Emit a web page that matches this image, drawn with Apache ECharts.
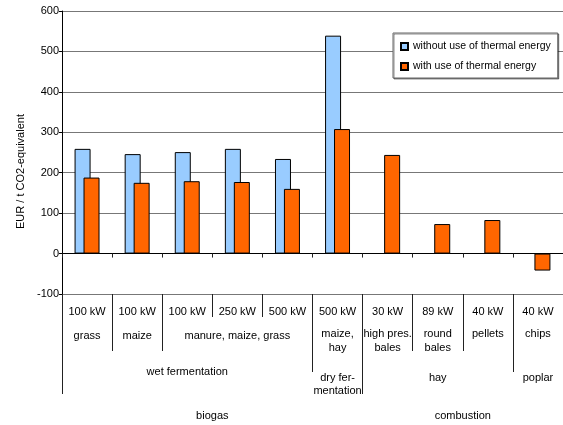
<!DOCTYPE html>
<html>
<head>
<meta charset="utf-8">
<script src="https://cdn.jsdelivr.net/npm/echarts@6/dist/echarts.min.js"></script>
<style>
  html, body { margin: 0; padding: 0; background: #fff; }
  #chart { width: 563px; height: 425px; }
</style>
</head>
<body>
<div id="chart"></div>
<script>
// Plant capacity per column
const capacity = ['100 kW', '100 kW', '100 kW', '250 kW', '500 kW', '500 kW', '30 kW', '89 kW', '40 kW', '40 kW'];
// Feedstock groups and how many columns each spans
const feedstock = ['grass', 'maize', 'manure, maize, grass', 'maize,\nhay', 'high pres.\nbales', 'round\nbales', 'pellets', 'chips'];
const feedstockSpan = [1, 1, 3, 1, 1, 1, 1, 1];
// Process groups
const processes = ['wet fermentation', 'dry fer-\nmentation', 'hay', 'poplar'];
const processSpan = [5, 1, 3, 1];
// Sector groups
const sectors = ['biogas', 'combustion'];
const sectorSpan = [6, 4];
// CO2 abatement costs, EUR / t CO2-equivalent
const withoutHeat = [259, 246, 251, 259, 234, 539, null, null, null, null];
const withHeat = [188, 175, 179, 177, 160, 308, 244, 73, 83, -42];
const yMin = -100, yMax = 600, yStep = 100;

const FONT = '"Liberation Sans", Arial, sans-serif';
const n = capacity.length;
const ids = capacity.map((_, i) => String(i));

// boundaries and centres of a row of grouped columns
function layout(spans) {
  const bounds = [];
  const centers = [];
  let s = 0;
  spans.forEach(sp => { bounds.push(s); centers.push(s + sp / 2); s += sp; });
  return { bounds, centers };
}
const fLay = layout(feedstockSpan);
const pLay = layout(processSpan);
const sLay = layout(sectorSpan);

function groupIndex(lay, v) {
  return lay.centers.findIndex(c => Math.abs(c - v) < 1e-6);
}
function labelFor(lay, names) {
  return v => {
    const k = groupIndex(lay, v);
    return k < 0 ? '' : names[k];
  };
}

const tickStyle = { color: '#222', width: 1 };
const textBase = { color: '#000', fontFamily: FONT, fontSize: 11, lineHeight: 14 };

function groupAxis(lay, names, offset, tickLen, margin, fmt, lineHeight) {
  return {
    type: 'value', gridIndex: 0, position: 'bottom', offset: offset,
    min: 0, max: n,
    axisLine: { show: false, onZero: false },
    splitLine: { show: false },
    axisTick: { show: true, length: tickLen, lineStyle: tickStyle, customValues: lay.bounds },
    axisLabel: Object.assign({
      show: true, margin: margin, customValues: lay.centers,
      formatter: fmt || labelFor(lay, names)
    }, textBase, lineHeight ? { lineHeight: lineHeight } : {})
  };
}

const chart = echarts.init(document.getElementById('chart'), null, { renderer: 'canvas' });

// feedstock row: biogas-side labels sit slightly lower
const feedFmt = v => {
  const k = groupIndex(fLay, v);
  if (k < 0) return '';
  if (k < 3) return feedstock[k].split('\n').map(l => '{lo|' + l + '}').join('\n');
  return feedstock[k];
};
// process row: the wide wet fermentation label sits a little higher
const procFmt = v => {
  const k = groupIndex(pLay, v);
  if (k < 0) return '';
  if (k === 0) return '{hi|' + processes[k] + '}';
  return processes[k];
};

const option = {
  animation: false,
  backgroundColor: '#fff',
  textStyle: { fontFamily: FONT },
  grid: { left: 62, right: 0, top: 11, bottom: 131, containLabel: false },
  legend: {
    orient: 'vertical',
    left: 393, top: 33,
    padding: [8, 7, 6, 7],
    itemGap: 9,
    itemWidth: 7, itemHeight: 7,
    itemTextGap: 6,
    backgroundColor: '#fff',
    borderColor: '#666', borderWidth: 1,
    shadowColor: 'rgba(0,0,0,0.45)', shadowBlur: 0, shadowOffsetX: 1, shadowOffsetY: 1,
    textStyle: { color: '#000', fontFamily: FONT, fontSize: 10.5 },
    icon: 'rect',
    data: ['without use of thermal energy', 'with use of thermal energy']
  },
  xAxis: [
    // zero line with short ticks
    {
      type: 'category', data: ids, gridIndex: 0, position: 'bottom',
      axisLine: { show: true, onZero: true, lineStyle: { color: '#000', width: 1 } },
      axisTick: { show: true, length: 4, interval: 0, lineStyle: tickStyle },
      axisLabel: { show: false },
      splitLine: { show: false }
    },
    // capacity row on the bottom of the plot
    {
      type: 'category', data: ids, gridIndex: 0, position: 'bottom', offset: 0,
      axisLine: { show: true, onZero: false, lineStyle: { color: '#777', width: 1 } },
      axisTick: { show: true, length: 23, interval: 0, lineStyle: tickStyle },
      axisLabel: Object.assign({ show: true, interval: 0, margin: 11, formatter: (v, i) => capacity[i] }, textBase),
      splitLine: { show: false }
    },
    groupAxis(fLay, feedstock, 23, 34, 10, feedFmt),
    groupAxis(pLay, processes, 57, 21, 20, procFmt, 13),
    groupAxis(sLay, sectors, 78, 22, 37)
  ],
  yAxis: {
    type: 'value', min: yMin, max: yMax, interval: yStep,
    name: 'EUR / t CO2-equivalent',
    nameLocation: 'middle', nameGap: 34, nameRotate: 90,
    nameTextStyle: { color: '#000', fontFamily: FONT, fontSize: 11, padding: [0, 38, 0, 0] },
    axisLine: { show: true, lineStyle: { color: '#000', width: 1 } },
    axisTick: { show: true, length: 3, lineStyle: { color: '#000' } },
    axisLabel: { color: '#000', fontFamily: FONT, fontSize: 11, margin: 3 },
    splitLine: { show: true, lineStyle: { color: '#777', width: 1 } }
  },
  series: [
    {
      name: 'without use of thermal energy',
      type: 'bar', xAxisIndex: 0, yAxisIndex: 0,
      data: withoutHeat,
      barWidth: 16, barGap: '-44%',
      itemStyle: { color: '#99CCFF', borderColor: '#000', borderWidth: 1 }
    },
    {
      name: 'with use of thermal energy',
      type: 'bar', xAxisIndex: 0, yAxisIndex: 0,
      data: withHeat,
      barWidth: 16, barGap: '-44%',
      itemStyle: { color: '#FF6600', borderColor: '#000', borderWidth: 1 }
    }
  ]
};

// rich styles for row nudges
option.xAxis[2].axisLabel.rich = { lo: Object.assign({}, textBase, { padding: [4, 0, 0, 0] }) };
option.xAxis[3].axisLabel.rich = { hi: Object.assign({}, textBase, { lineHeight: 1 }) };

chart.setOption(option);
</script>
</body>
</html>
